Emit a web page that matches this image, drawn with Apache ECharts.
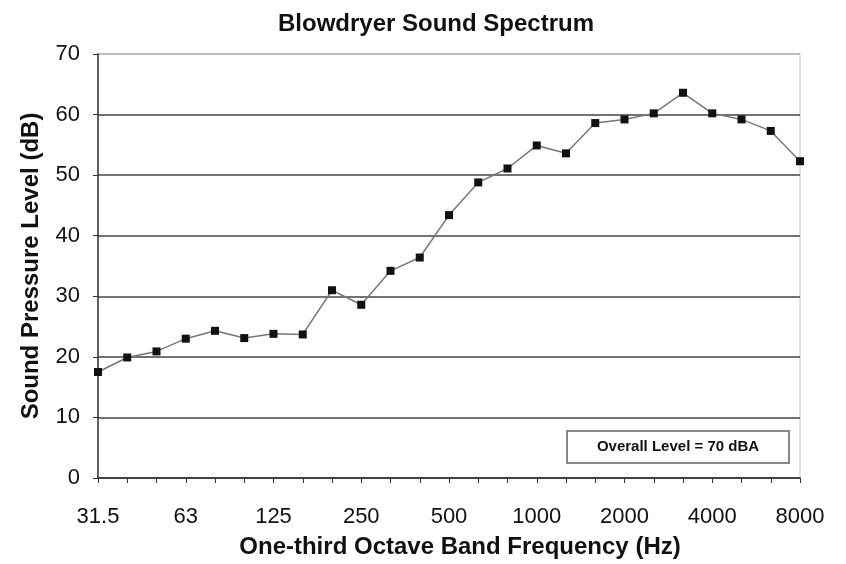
<!DOCTYPE html>
<html>
<head>
<meta charset="utf-8">
<title>Blowdryer Sound Spectrum</title>
<script src="https://cdn.jsdelivr.net/npm/echarts@6/dist/echarts.min.js"></script>
<style>
  html, body { margin: 0; padding: 0; background: #fff; }
  #chart { width: 846px; height: 564px; }
</style>
</head>
<body>
<div id="chart"></div>
<script>
  // one-third octave band centre frequencies (Hz)
  var bands = [
    "31.5", "40", "50", "63", "80", "100", "125", "160", "200", "250",
    "315", "400", "500", "630", "800", "1000", "1250", "1600", "2000",
    "2500", "3150", "4000", "5000", "6300", "8000"
  ];
  // sound pressure level per band (dB)
  var levels = [
    17.5, 19.9, 20.9, 23.0, 24.3, 23.1, 23.8, 23.7, 31.0, 28.6,
    34.2, 36.4, 43.4, 48.8, 51.1, 54.9, 53.6, 58.6, 59.2,
    60.2, 63.6, 60.2, 59.2, 57.3, 52.3
  ];
  var yTicks = [0, 10, 20, 30, 40, 50, 60, 70];
  var note = "Overall Level = 70 dBA";

  var font = "'Liberation Sans', Arial, sans-serif";
  var chart = echarts.init(document.getElementById("chart"));

  chart.setOption({
    animation: false,
    backgroundColor: "#fff",
    title: {
      text: "Blowdryer Sound Spectrum",
      left: 431,
      textAlign: "center",
      top: 7,
      textStyle: { fontFamily: font, fontSize: 24, fontWeight: "bold", color: "#111" }
    },
    grid: {
      left: 98, right: 46, top: 54, bottom: 85,
      show: true, borderColor: "#c8c8c8", borderWidth: 1
    },
    xAxis: {
      type: "category",
      data: bands,
      boundaryGap: false,
      name: "One-third Octave Band Frequency (Hz)",
      nameLocation: "middle",
      nameGap: 57,
      nameTextStyle: {
        fontFamily: font, fontSize: 24, fontWeight: "bold", color: "#111",
        padding: [0, 0, 0, 22]
      },
      axisLine: { lineStyle: { color: "#333", width: 1.5 } },
      axisTick: { interval: 0, length: 5, lineStyle: { color: "#333" } },
      axisLabel: {
        interval: 2, margin: 28,
        fontFamily: font, fontSize: 22, color: "#111"
      },
      splitLine: { show: false }
    },
    yAxis: {
      type: "value",
      min: yTicks[0],
      max: yTicks[yTicks.length - 1],
      interval: 10,
      name: "Sound Pressure Level (dB)",
      nameLocation: "middle",
      nameGap: 55,
      nameTextStyle: { fontFamily: font, fontSize: 24, fontWeight: "bold", color: "#111" },
      axisLine: { show: true, lineStyle: { color: "#333", width: 1.5 } },
      axisTick: { show: true, length: 5, lineStyle: { color: "#333" } },
      axisLabel: { margin: 18, fontFamily: font, fontSize: 22, color: "#111" },
      splitLine: {
        lineStyle: {
          width: 1.5,
          color: ["#444", "#444", "#444", "#444", "#444", "#444", "#444", "#b0b0b0"]
        }
      }
    },
    series: [{
      type: "line",
      data: levels,
      symbol: "rect",
      symbolSize: 8,
      itemStyle: { color: "#111" },
      lineStyle: { color: "#777", width: 1.5 }
    }],
    graphic: [{
      type: "group",
      right: 56,
      bottom: 100,
      children: [{
        type: "rect",
        shape: { x: 0, y: 0, width: 222, height: 32 },
        style: { fill: "#fff", stroke: "#888", lineWidth: 2 }
      }, {
        type: "text",
        x: 111, y: 16,
        style: {
          text: note, fontFamily: font, fontSize: 15, fontWeight: "bold",
          fill: "#111", align: "center", verticalAlign: "middle"
        }
      }]
    }]
  });
</script>
</body>
</html>
